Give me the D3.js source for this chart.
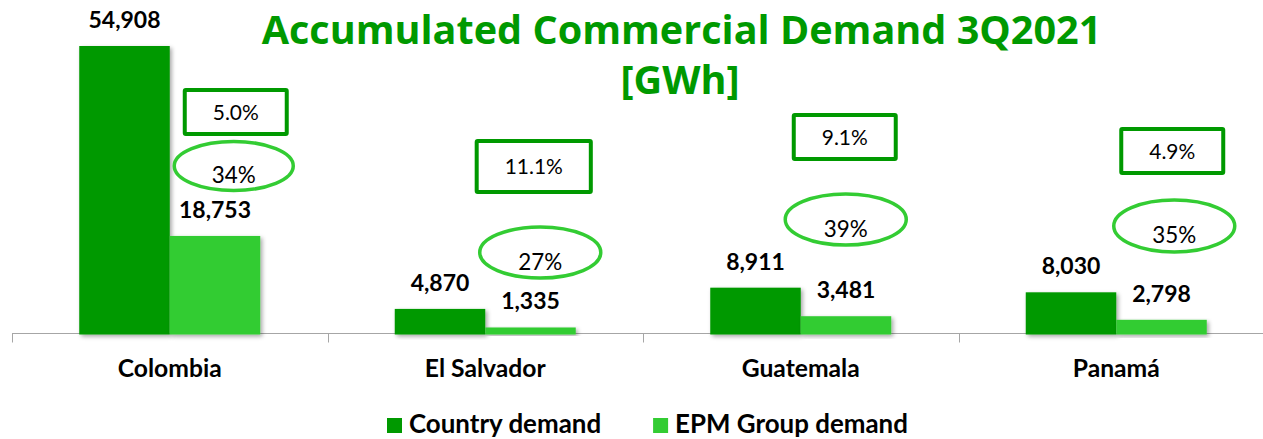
<!DOCTYPE html>
<html>
<head>
<meta charset="utf-8">
<script src="https://cdn.jsdelivr.net/npm/d3@7/dist/d3.min.js"></script>
<style>
  html, body { margin: 0; padding: 0; background: #fff; }
  svg { display: block; }
  text { font-family: Lato, "Open Sans", "DejaVu Sans", sans-serif; }
  text.title { font-family: "Open Sans", Lato, sans-serif; }
</style>
</head>
<body>
<script>
// ---------------- data ----------------
const categories = ["Colombia", "El Salvador", "Guatemala", "Panamá"];
const countryDemand = [54908, 4870, 8911, 8030];
const epmDemand = [18753, 1335, 3481, 2798];
const growthLabels = ["5.0%", "11.1%", "9.1%", "4.9%"];
const shareLabels = ["34%", "27%", "39%", "35%"];
const seriesNames = ["Country demand", "EPM Group demand"];
const titleLines = ["Accumulated Commercial Demand 3Q2021", "[GWh]"];

// ---------------- layout / style ----------------
const W = 1263, H = 439;
const colors = { dark: "#009900", light: "#33cc33", axis: "#a6a6a6" };
// callout placement relative to category band centre (pixels)
const calloutLayout = [
  { boxDx: 66, boxCy: 112, boxH: 48, ellDx: 64, ellCy: 166, ellRx: 59.5, ellRy: 24.5 },
  { boxDx: 48.5, boxCy: 166.5, boxH: 55, ellDx: 55, ellCy: 252.5, ellRx: 60.5, ellRy: 25.5 },
  { boxDx: 44, boxCy: 137, boxH: 48, ellDx: 45, ellCy: 219.5, ellRx: 60.5, ellRy: 25.5 },
  { boxDx: 56, boxCy: 151, boxH: 48, ellDx: 58, ellCy: 226, ellRx: 60.5, ellRy: 26 }
];

const svg = d3.select("body").append("svg").attr("width", W).attr("height", H);

// font fitting helper
function measure(sample, weight, size, cls) {
  const t = svg.append("text").attr("class", cls || null).attr("font-size", size)
    .attr("font-weight", weight).text(sample);
  const w = t.node().getComputedTextLength();
  t.remove();
  return w;
}
function fitSize(sample, weight, target, cls) {
  return 100 * target / measure(sample, weight, 100, cls);
}
const fsTitle = fitSize(titleLines[0], "bold", 840, "title");
const fsValue = fitSize("54,908", "bold", 72);
const fsCat = fitSize("Colombia", "bold", 104);
const fsLegend = fitSize("EPM Group demand", "bold", 233);
const fsAnn = fitSize("5.0%", "normal", 46);
const fsShare = fitSize("34%", "normal", 44);

// shadow filter
const defs = svg.append("defs");
const f = defs.append("filter").attr("id", "shadow").attr("x", "-10%").attr("y", "-10%").attr("width", "130%").attr("height", "130%");
f.append("feDropShadow").attr("dx", 2).attr("dy", 2).attr("stdDeviation", 2)
  .attr("flood-color", "#000").attr("flood-opacity", 0.35);

// scales
const x = d3.scaleBand().domain(categories).range([12, 1274]).paddingInner(0).paddingOuter(0);
const barW = 90.5;
const y = d3.scaleLinear().domain([0, 54908]).range([334.5, 46]);
const sub = d3.scaleBand().domain(seriesNames).range([-barW, barW]);

const rows = categories.map((c, i) => ({
  cat: c, i,
  vals: [
    { s: seriesNames[0], v: countryDemand[i], color: colors.dark },
    { s: seriesNames[1], v: epmDemand[i], color: colors.light }
  ]
}));

// axis
const axisY = 333.5;
svg.append("line").attr("x1", x.range()[0]).attr("x2", W).attr("y1", axisY).attr("y2", axisY)
  .attr("stroke", colors.axis).attr("stroke-width", 1);
const tickXs = categories.map(c => x(c)).concat([x.range()[1]]);
svg.selectAll("line.tick").data(tickXs).enter().append("line").attr("class", "tick")
  .attr("x1", d => Math.round(d) + 0.5).attr("x2", d => Math.round(d) + 0.5)
  .attr("y1", axisY).attr("y2", axisY + 9)
  .attr("stroke", colors.axis).attr("stroke-width", 1);

// bars
const g = svg.selectAll("g.cat").data(rows).enter().append("g").attr("class", "cat")
  .attr("transform", d => `translate(${x(d.cat) + x.bandwidth() / 2},0)`);

g.selectAll("rect.bar").data(d => d.vals).enter().append("rect").attr("class", "bar")
  .attr("x", d => sub(d.s)).attr("width", sub.bandwidth())
  .attr("y", d => y(d.v)).attr("height", d => y(0) - y(d.v))
  .attr("fill", d => d.color).attr("filter", "url(#shadow)");

// value labels
g.selectAll("text.val").data(d => d.vals).enter().append("text").attr("class", "val")
  .attr("x", d => sub(d.s) + sub.bandwidth() / 2).attr("y", d => y(d.v) - 18)
  .attr("text-anchor", "middle").attr("font-weight", "bold").attr("font-size", fsValue)
  .attr("fill", "#000").text(d => d3.format(",")(d.v));

// category labels
g.append("text").attr("x", 0).attr("y", 377).attr("text-anchor", "middle")
  .attr("font-weight", "bold").attr("font-size", fsCat).attr("fill", "#000").text(d => d.cat);

// callouts
g.each(function (d) {
  const L = calloutLayout[d.i];
  const sel = d3.select(this);
  // growth box
  const t = sel.append("text").attr("x", L.boxDx).attr("y", L.boxCy + fsAnn * 0.36)
    .attr("text-anchor", "middle").attr("font-size", fsAnn).attr("fill", "#000")
    .text(growthLabels[d.i]);
  const tw = t.node().getComputedTextLength();
  const bw = tw + 56;
  sel.insert("rect", "text").attr("x", L.boxDx - bw / 2).attr("y", L.boxCy - (L.boxH - 4) / 2)
    .attr("width", bw).attr("height", L.boxH - 4)
    .attr("fill", "#fff").attr("stroke", colors.dark).attr("stroke-width", 4).attr("rx", 1);
  // share ellipse
  sel.append("ellipse").attr("cx", L.ellDx).attr("cy", L.ellCy).attr("rx", L.ellRx).attr("ry", L.ellRy)
    .attr("fill", "none").attr("stroke", colors.light).attr("stroke-width", 3.5);
  sel.append("text").attr("x", L.ellDx).attr("y", L.ellCy + 9 + fsShare * 0.36)
    .attr("text-anchor", "middle").attr("font-size", fsShare).attr("fill", "#000")
    .text(shareLabels[d.i]);
});

// title
svg.append("text").attr("class", "title").attr("x", 681.5).attr("y", Math.ceil(fsTitle * 1.07) + 1)
  .attr("text-anchor", "middle")
  .attr("font-weight", "bold").attr("font-size", fsTitle)
  .attr("fill", colors.dark).text(titleLines[0]);
svg.append("text").attr("class", "title").attr("x", 680).attr("y", 94).attr("text-anchor", "middle")
  .attr("font-weight", "bold").attr("font-size", fsTitle)
  .attr("fill", colors.dark).text(titleLines[1]);

// legend
const legend = svg.append("g");
let lx = 387;
seriesNames.forEach((name, i) => {
  legend.append("rect").attr("x", lx).attr("y", 418).attr("width", 15).attr("height", 15)
    .attr("fill", i === 0 ? colors.dark : colors.light);
  const t = legend.append("text").attr("x", lx + 22).attr("y", 433)
    .attr("font-weight", "bold").attr("font-size", fsLegend).attr("fill", "#000").text(name);
  lx = lx + 22 + t.node().getComputedTextLength() + 52;
});
</script>
</body>
</html>
